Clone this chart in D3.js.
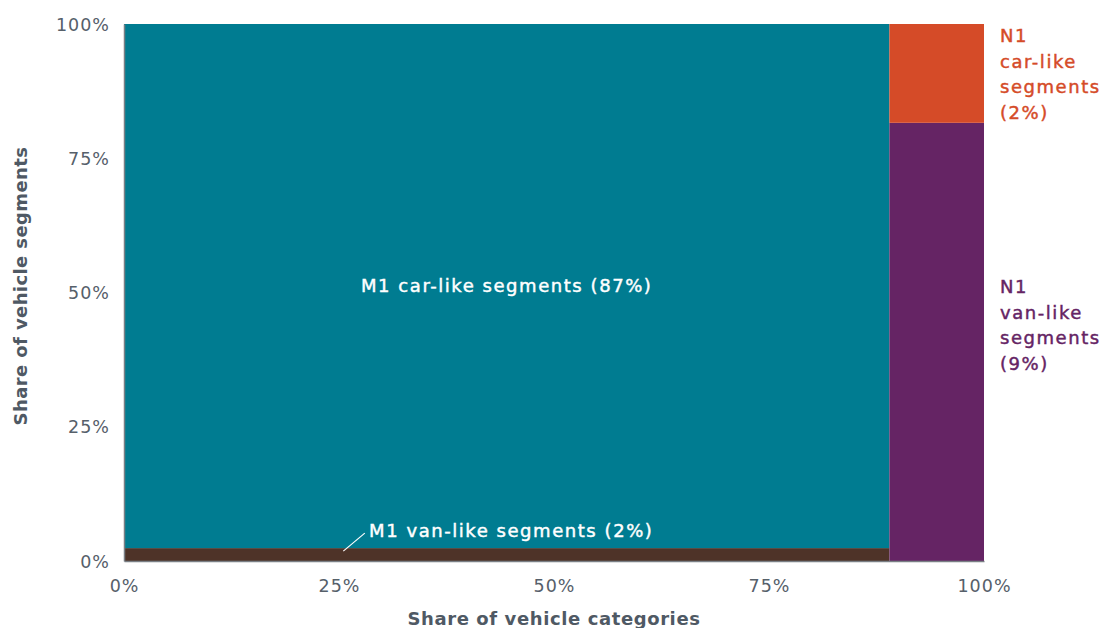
<!DOCTYPE html>
<html><head><meta charset="utf-8">
<script src="https://cdn.jsdelivr.net/npm/d3@7"></script>
<style>body{margin:0;background:#fff;} text{font-family:"DejaVu Sans",sans-serif;}</style>
</head><body><svg id="c" width="1110" height="628"></svg>
<script>
const categories = ["M1", "N1"];
const categoryShares = [89, 11];           // share of vehicle categories (%)
const segments = ["van-like", "car-like"]; // stacked bottom-up within each category
const m1Shares = [2.4, 97.6];              // van-like, car-like within M1 (%)
const n1Shares = [81.6, 18.4];             // van-like, car-like within N1 (%)
const m1CarLabel = "M1 car-like segments (87%)";
const m1VanLabel = "M1 van-like segments (2%)";
const n1CarLabel = ["N1","car-like","segments","(2%)"];
const n1VanLabel = ["N1","van-like","segments","(9%)"];
const xTicks = [0, 25, 50, 75, 100];
const yTicks = [0, 25, 50, 75, 100];

const colors = {"M1 van-like":"#4E3328","M1 car-like":"#007C91","N1 van-like":"#652464","N1 car-like":"#D54B28"};
const svg = d3.select("#c");
const L=124, R=984, T=24, B=561;
const x = d3.scaleLinear().domain([0,100]).range([L,R]);
const y = d3.scaleLinear().domain([0,100]).range([B,T]);
const FONT = "'DejaVu Sans',sans-serif";

const rects = [];
let x0 = 0;
categories.forEach((c,i)=>{
  const shares = i===0 ? m1Shares : n1Shares;
  let y0 = 0;
  segments.forEach((s,j)=>{
    rects.push({cat:c, seg:s, x0:x0, x1:x0+categoryShares[i], y0:y0, y1:y0+shares[j]});
    y0 += shares[j];
  });
  x0 += categoryShares[i];
});
svg.selectAll("rect.seg").data(rects).enter().append("rect")
  .attr("x",d=>x(d.x0)).attr("width",d=>x(d.x1)-x(d.x0))
  .attr("y",d=>y(d.y1)).attr("height",d=>y(d.y0)-y(d.y1))
  .attr("fill",d=>colors[d.cat+" "+d.seg]);

const gray="#4f5964";
const xAxis = svg.append("g").attr("transform",`translate(0,${B})`)
  .call(d3.axisBottom(x).tickValues(xTicks).tickFormat(d=>d+"%").tickSize(0).tickPadding(19));
const yAxis = svg.append("g").attr("transform",`translate(${L},0)`)
  .call(d3.axisLeft(y).tickValues(yTicks).tickFormat(d=>d+"%").tickSize(0).tickPadding(14));
[xAxis,yAxis].forEach(g=>{
  g.select(".domain").attr("stroke","#7a7f85").attr("stroke-width",1.5);
  g.selectAll("text").attr("fill","#56606a").attr("font-size",17.5).attr("font-family",FONT)
    .attr("letter-spacing",1);
});
yAxis.selectAll(".tick text").attr("dy","0.35em");

svg.append("text").attr("x",554).attr("y",625).attr("text-anchor","middle")
  .attr("fill",gray).attr("font-size",18).attr("font-weight",600).attr("letter-spacing",0.6).text("Share of vehicle categories");
svg.append("text").attr("transform",`translate(27,${286}) rotate(-90)`).attr("text-anchor","middle")
  .attr("fill",gray).attr("font-size",18).attr("font-weight",600).attr("letter-spacing",0.4).text("Share of vehicle segments");

function medium(sel, col){ return sel.attr("fill",col).attr("stroke",col).attr("stroke-width",0.45).attr("font-size",18).attr("letter-spacing",1.55); }

const m1car = rects[1];
medium(svg.append("text"),"#fff").attr("x",(x(m1car.x0)+x(m1car.x1))/2).attr("y",(y(m1car.y0)+y(m1car.y1))/2)
  .attr("dy","0.35em").attr("text-anchor","middle").text(m1CarLabel);
const m1van = rects[0];
svg.append("line").attr("x1",x(25.5)).attr("y1",y(m1van.y1)+3).attr("x2",x(28)).attr("y2",y(m1van.y1)-15)
  .attr("stroke","#fff").attr("stroke-width",1.2);
medium(svg.append("text"),"#fff").attr("x",x(28.5)).attr("y",y(m1van.y1)-11).text(m1VanLabel);

const n1van = rects[2], n1car = rects[3];
const n1carText = medium(svg.append("text"),colors["N1 car-like"]).attr("x",R+16).attr("y",y(n1car.y1)+18);
n1CarLabel.forEach((t,i)=>n1carText.append("tspan").attr("x",R+16).attr("dy",i?25.6:0).text(t));
const n1vanText = medium(svg.append("text"),colors["N1 van-like"]).attr("x",R+16).attr("y",y(51)+6);
n1VanLabel.forEach((t,i)=>n1vanText.append("tspan").attr("x",R+16).attr("dy",i?25.6:0).text(t));
</script></body></html>
